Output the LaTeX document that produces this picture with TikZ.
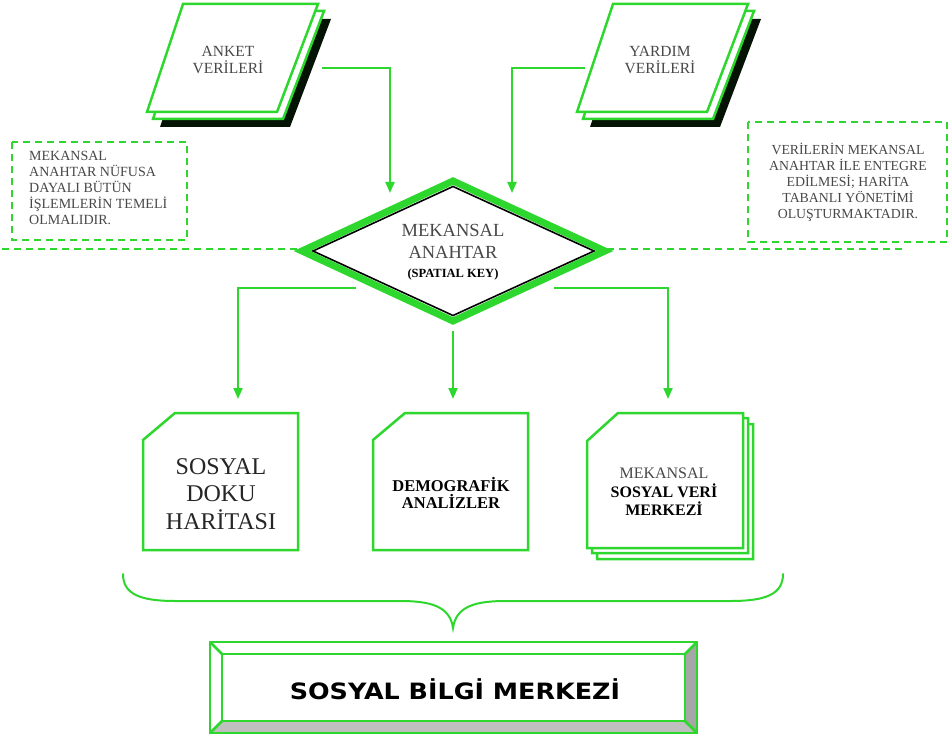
\documentclass[tikz,border=0pt]{standalone}
\usepackage{fontspec}
\setmainfont{Liberation Serif}
\newfontfamily\verd[FakeStretch=1.13]{DejaVu Sans}
\usetikzlibrary{arrows.meta}
\definecolor{G}{RGB}{45,215,45}
\definecolor{txtgray}{RGB}{72,72,72}
\tikzset{
  gline/.style={draw=G, line width=2.5pt, line join=miter},
  conn/.style={draw=G, line width=2pt, -{Triangle[length=11pt,width=9pt]}},
  plainconn/.style={draw=G, line width=2pt},
  dbox/.style={draw=G, line width=1.8pt, dash pattern=on 7pt off 5pt},
  lbl/.style={align=center, inner sep=0pt},
}
\begin{document}
\begin{tikzpicture}[x=1pt,y=-1pt]
\useasboundingbox (0,0) rectangle (950,735);
% ---------- ANKET stack
\fill[black!85!G!60!black] (196,19) -- ++(135,0) -- ++(-41,108) -- ++(-130,0) -- cycle;
\path[gline, fill=white] (189,11) -- ++(135,0) -- ++(-41,108) -- ++(-130,0) -- cycle;
\path[gline, fill=white] (183,4) -- ++(135,0) -- ++(-41,108) -- ++(-130,0) -- cycle;
\node[lbl, font=\fontsize{15.5}{17.5}\selectfont, text=txtgray] (anket) at (228,60) {ANKET\\VERİLERİ};
\coordinate (anketR) at (322,68);
% ---------- YARDIM stack
\fill[black!85!G!60!black] (626,19) -- ++(135,0) -- ++(-41,108) -- ++(-130,0) -- cycle;
\path[gline, fill=white] (619,11) -- ++(135,0) -- ++(-41,108) -- ++(-130,0) -- cycle;
\path[gline, fill=white] (613,4) -- ++(135,0) -- ++(-41,108) -- ++(-130,0) -- cycle;
\node[lbl, font=\fontsize{15.5}{17.5}\selectfont, text=txtgray] (yardim) at (660,60) {YARDIM\\VERİLERİ};
\coordinate (yardimL) at (585,68);
% ---------- dashed guide lines
\coordinate (dl1) at (2,249);
\coordinate (dl2) at (300,249);
\coordinate (dr1) at (607,249);
\coordinate (dr2) at (905,249);
\draw[dbox] (dl1) -- (dl2);
\draw[dbox] (dr1) -- (dr2);
% ---------- dashed note boxes
\draw[dbox, fill=white] (12,142) rectangle (187,240);
\node[anchor=north west, align=left, inner sep=0pt, text=txtgray,
      font=\fontsize{14}{16}\selectfont] (noteL) at (29,151)
  {MEKANSAL\\ANAHTAR NÜFUSA\\DAYALI BÜTÜN\\İŞLEMLERİN TEMELİ\\OLMALIDIR.};
\draw[dbox, fill=white] (748,122) rectangle (947,242);
\node[lbl, text=txtgray, font=\fontsize{13.8}{16}\selectfont] (noteR) at (848,182)
  {VERİLERİN MEKANSAL\\ANAHTAR İLE ENTEGRE\\EDİLMESİ; HARİTA\\TABANLI YÖNETİMİ\\OLUŞTURMAKTADIR.};
% ---------- diamond
\path[draw=G, line width=7pt, fill=white, line join=miter] (302,251) -- (453,181) -- (605,251) -- (453,321) -- cycle;
\path[draw=black, line width=1.6pt, line join=miter] (313,251) -- (453,186.5) -- (594,251) -- (453,315.5) -- cycle;
\node[lbl, font=\fontsize{18.5}{22}\selectfont, text=txtgray] (spatial) at (453,252)
  {MEKANSAL\\ANAHTAR\\[-3pt]{\color{black}\fontsize{12.5}{14}\selectfont\bfseries (SPATIAL KEY)}};
\coordinate (inA) at (390,193);
\coordinate (inB) at (512,193);
\coordinate (outL) at (356,288);
\coordinate (outM) at (453,331);
\coordinate (outR) at (554,288);
% ---------- top connectors
\draw[conn] (anketR) -| (inA);
\draw[conn] (yardimL) -| (inB);
% ---------- bottom boxes
% box 1
\path[gline, fill=white] (143,440) -- (175,413) -- (298,413) -- (298,550) -- (143,550) -- cycle;
\node[lbl, font=\fontsize{24}{27.5}\selectfont, text={black!85}] (doku) at (221,494) {SOSYAL\\DOKU\\HARİTASI};
\coordinate (b1top) at (238,399);
% box 2
\path[gline, fill=white] (373,440) -- (405,413) -- (528,413) -- (528,550) -- (373,550) -- cycle;
\node[lbl, font=\fontsize{16.5}{17.5}\selectfont\bfseries] (demo) at (451,493) {DEMOGRAFİK\\ANALİZLER};
\coordinate (b2top) at (453,399);
% box 3 (stack)
\path[gline, fill=white] (597,453) -- (628,424) -- (753,424) -- (753,559) -- (597,559) -- cycle;
\path[gline, fill=white] (592,447) -- (623,418) -- (748,418) -- (748,553) -- (592,553) -- cycle;
\path[gline, fill=white] (587,441) -- (618,413) -- (743,413) -- (743,548) -- (587,548) -- cycle;
\node[lbl, font=\fontsize{16}{18.5}\selectfont] (merkez) at (664,492)
  {{\color{txtgray}MEKANSAL}\\\textbf{SOSYAL VERİ}\\\textbf{MERKEZİ}};
\coordinate (b3top) at (668,399);
% ---------- bottom connectors
\draw[conn] (outL) -| (b1top);
\draw[conn] (outM) -- (b2top);
\draw[conn] (outR) -| (b3top);
% ---------- brace
\coordinate (brL) at (123,574);
\coordinate (brR) at (783,574);
\coordinate (brTip) at (453,628);
\draw[plainconn, line cap=round] (brL) .. controls (123,594) and (140,601) .. (175,601)
  -- (400,601) .. controls (430,601) and (450,606) .. (brTip)
  .. controls (456,606) and (476,601) .. (506,601)
  -- (731,601) .. controls (766,601) and (783,594) .. (brR);
% ---------- final beveled box
\fill[white] (210,642) rectangle (697,733);
\fill[black!35] (697,642) -- (697,733) -- (685,721) -- (685,654) -- cycle;
\fill[black!25] (210,733) -- (697,733) -- (685,721) -- (222,721) -- cycle;
\draw[gline] (210,642) rectangle (697,733);
\draw[gline] (222,654) rectangle (685,721);
\draw[gline] (210,642) -- (222,654);
\draw[gline] (697,642) -- (685,654);
\draw[gline] (697,733) -- (685,721);
\draw[gline] (210,733) -- (222,721);
\node[lbl, font=\verd\bfseries\fontsize{22.5}{24}\selectfont] (sbm) at (455,689) {SOSYAL BİLGİ MERKEZİ};
\end{tikzpicture}
\end{document}
